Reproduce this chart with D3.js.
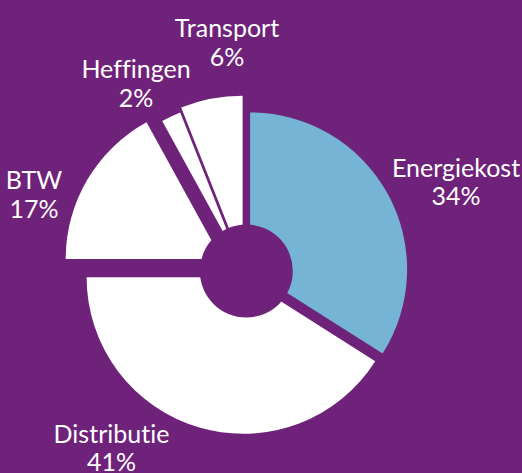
<!DOCTYPE html>
<html>
<head>
<meta charset="utf-8">
<script src="https://cdn.jsdelivr.net/npm/d3@7"></script>
<style>
  html, body { margin: 0; padding: 0; background: #6f2279; }
  svg { display: block; }
</style>
</head>
<body>
<div id="container"></div>
<script>
let w = 522;
let h = 473;

// data
let categories = ["Energiekost", "Distributie", "BTW", "Heffingen", "Transport"];
let shares = [34, 41, 17, 2, 6];
let labels = ["34%", "41%", "17%", "2%", "6%"];

// styling per slice
let fills = ["#76b4d5", "#ffffff", "#ffffff", "#ffffff", "#ffffff"];
let explode = [6.4, 5, 26.5, 14, 10];
let radii = [157, 156.5, 156, 158.5, 167];
let labelPos = [[456, 176.5], [111.5, 442.5], [34, 189], [136, 78.3], [227, 37.3]];

let cx = 244.5, cy = 272.5;
let holeR = 46.5;

let viz = d3.select("#container").append("svg")
    .attr("width", w)
    .attr("height", h);

viz.append("rect").attr("width", w).attr("height", h).attr("fill", "#6f2279");

let pie = d3.pie().sort(null).value(function(d){ return d; });
let slices = pie(shares);

let g = viz.append("g").attr("transform", "translate(" + cx + "," + cy + ")");

g.selectAll(".slice").data(slices).enter().append("path")
  .attr("class", "slice")
  .attr("d", function(d, i){
    return d3.arc().innerRadius(0).outerRadius(radii[i])(d);
  })
  .attr("fill", function(d, i){ return fills[i]; })
  .attr("transform", function(d, i){
    let mid = (d.startAngle + d.endAngle) / 2;
    let dx = explode[i] * Math.sin(mid);
    let dy = -explode[i] * Math.cos(mid);
    return "translate(" + dx + "," + dy + ")";
  });

// hole in the middle
g.append("circle")
  .attr("cx", 1.8).attr("cy", -1.5)
  .attr("r", holeR)
  .attr("fill", "#6f2279");

// labels
let lab = viz.selectAll(".lab").data(categories).enter().append("text")
  .attr("class", "lab")
  .attr("x", function(d, i){ return labelPos[i][0]; })
  .attr("y", function(d, i){ return labelPos[i][1]; })
  .attr("text-anchor", "middle")
  .attr("fill", "#ffffff")
  .style("font-family", "Lato, sans-serif")
  .style("font-variant-ligatures", "none")
  .style("font-size", "25px");

lab.append("tspan").text(function(d){ return d; });
lab.append("tspan")
  .attr("x", function(d, i){ return labelPos[i][0]; })
  .attr("dy", 28.6)
  .text(function(d, i){ return labels[i]; });
</script>
</body>
</html>
